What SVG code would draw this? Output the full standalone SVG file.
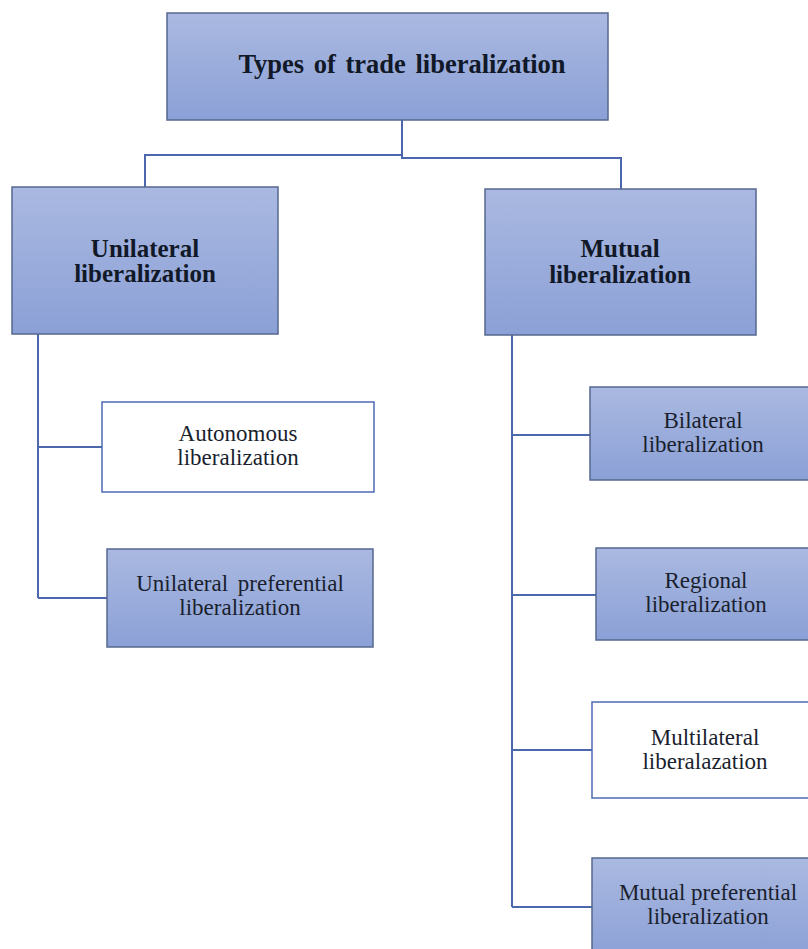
<svg xmlns="http://www.w3.org/2000/svg" width="808" height="949" viewBox="0 0 808 949">
<defs>
<linearGradient id="g" x1="0" y1="0" x2="0" y2="1">
<stop offset="0" stop-color="#aab9e1"/>
<stop offset="1" stop-color="#8ba0d6"/>
</linearGradient>
<style>
.b{fill:url(#g);stroke:#56688f;stroke-width:1.5}
.w{fill:#ffffff;stroke:#4d6bb3;stroke-width:1.5}
.c{fill:none;stroke:#4d67ad;stroke-width:2}
.tb{font-family:"Liberation Serif","Times New Roman",serif;font-weight:bold;fill:#111827;text-anchor:middle}
.t{font-family:"Liberation Serif","Times New Roman",serif;font-size:23px;fill:#1a1f2e;text-anchor:middle}
</style>
</defs>
<rect width="808" height="949" fill="#ffffff"/>
<g id="connectors">
<polyline class="c" points="402,120 402,155 145,155 145,187"/>
<polyline class="c" points="402,155 402,158 621,158 621,189"/>
<line class="c" x1="38" y1="334" x2="38" y2="598"/>
<line class="c" x1="38" y1="447" x2="102" y2="447"/>
<line class="c" x1="38" y1="598" x2="107" y2="598"/>
<line class="c" x1="512" y1="335" x2="512" y2="907"/>
<line class="c" x1="512" y1="435" x2="590" y2="435"/>
<line class="c" x1="512" y1="595" x2="596" y2="595"/>
<line class="c" x1="512" y1="750" x2="592" y2="750"/>
<line class="c" x1="512" y1="907" x2="592" y2="907"/>
</g>
<g id="root">
<rect class="b" x="167" y="13" width="441" height="107"/>
<text class="tb" x="402" y="73" font-size="26.5" word-spacing="3">Types of trade liberalization</text>
</g>
<g id="unilateral">
<rect class="b" x="12" y="187" width="266" height="147"/>
<text class="tb" x="145" y="257" font-size="25">Unilateral</text>
<text class="tb" x="145" y="282" font-size="25">liberalization</text>
</g>
<g id="mutual">
<rect class="b" x="485" y="189" width="271" height="146"/>
<text class="tb" x="620" y="257" font-size="25">Mutual</text>
<text class="tb" x="620" y="283" font-size="25">liberalization</text>
</g>
<g id="autonomous">
<rect class="w" x="102" y="402" width="272" height="90"/>
<text class="t" x="238" y="441">Autonomous</text>
<text class="t" x="238" y="465">liberalization</text>
</g>
<g id="unilateral-preferential">
<rect class="b" x="107" y="549" width="266" height="98"/>
<text class="t" x="240" y="591" word-spacing="4">Unilateral preferential</text>
<text class="t" x="240" y="615">liberalization</text>
</g>
<g id="bilateral">
<rect class="b" x="590" y="387" width="230" height="93"/>
<text class="t" x="703" y="428">Bilateral</text>
<text class="t" x="703" y="452">liberalization</text>
</g>
<g id="regional">
<rect class="b" x="596" y="548" width="224" height="92"/>
<text class="t" x="706" y="588">Regional</text>
<text class="t" x="706" y="612">liberalization</text>
</g>
<g id="multilateral">
<rect class="w" x="592" y="702" width="228" height="96"/>
<text class="t" x="705" y="745">Multilateral</text>
<text class="t" x="705" y="769">liberalazation</text>
</g>
<g id="mutual-preferential">
<rect class="b" x="592" y="858" width="228" height="100"/>
<text class="t" x="708" y="900">Mutual preferential</text>
<text class="t" x="708" y="924">liberalization</text>
</g>
</svg>
